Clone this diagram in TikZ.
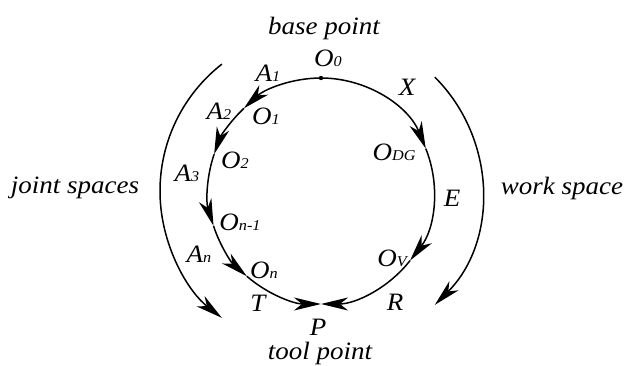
\documentclass[tikz,border=0pt]{standalone}
\usepackage{fontspec}
\setmainfont{Liberation Serif}
\newfontfamily\lblfont[FakeStretch=1.08]{Liberation Serif}
\usetikzlibrary{arrows.meta,calc}
\newcommand\lsub[1]{{\fontsize{15}{15}\selectfont #1}}
\begin{document}
\begin{tikzpicture}[x=1pt,y=1pt,
  lbl/.style={font=\lblfont\fontsize{25}{25}\selectfont\itshape, inner sep=0pt},
  arr/.style={line width=1.5pt, -{Stealth[length=27pt,width=13pt,inset=8pt]}},
  plain/.style={line width=1.5pt}]
\useasboundingbox (0,0) rectangle (624,365);
\coordinate (c) at (321,174);
% points on main circle
\foreach \n/\a in {p0/90,l1/133,l2/161,l3/198,l4/229,pp/270,r1/22,r2/-38}
  \coordinate (\n) at ($(c)+(\a:113)$);
% outer arc end points
\coordinate (jt) at ($(c)+(128:161)$);
\coordinate (wt) at ($(c)+(45:161)$);
% main circle, left half
\draw[arr] (p0) arc[start angle=90,end angle=133,radius=113];
\draw[arr] (l1) arc[start angle=133,end angle=161,radius=113];
\draw[arr] (l2) arc[start angle=161,end angle=198,radius=113];
\draw[arr] (l3) arc[start angle=198,end angle=229,radius=113];
\draw[arr] (l4) arc[start angle=229,end angle=270,radius=113];
% main circle, right half
\draw[arr] (p0) arc[start angle=90,end angle=22,radius=113];
\draw[arr] (r1) arc[start angle=22,end angle=-38,radius=113];
\draw[arr] (r2) arc[start angle=-38,end angle=-90,radius=113];
% outer arcs
\draw[arr] (jt) arc[start angle=128,end angle=232,radius=161];
\draw[arr] (wt) arc[start angle=45,end angle=-45,radius=161];
% base point dot
\fill (p0) circle[radius=2.2];
% labels
\node[lbl] (base) at (324,337) {base point};
\node[lbl] (tool) at (320,12) {tool point};
\node[lbl] (joint) at (75,177) {joint spaces};
\node[lbl] (work) at (562,177) {work space};
\node[lbl] (O0) at (328,307) {O\lsub{0}};
\node[lbl] (A1) at (268,292) {A\lsub{1}};
\node[lbl] (X) at (407,278) {X};
\node[lbl] (A2) at (219,254) {A\lsub{2}};
\node[lbl] (O1) at (266,249) {O\lsub{1}};
\node[lbl] (O2) at (235,205) {O\lsub{2}};
\node[lbl] (A3) at (187,192) {A\lsub{3}};
\node[lbl] (ODG) at (394,213) {O\lsub{DG}};
\node[lbl] (E) at (452,167) {E};
\node[lbl] (On1) at (240,143) {O\lsub{n-1}};
\node[lbl] (An) at (199,111) {A\lsub{n}};
\node[lbl] (On) at (264,95) {O\lsub{n}};
\node[lbl] (OV) at (392,107) {O\lsub{V}};
\node[lbl] (T) at (258,62) {T};
\node[lbl] (R) at (395,63) {R};
\node[lbl] (P) at (318,38) {P};
\end{tikzpicture}
\end{document}
